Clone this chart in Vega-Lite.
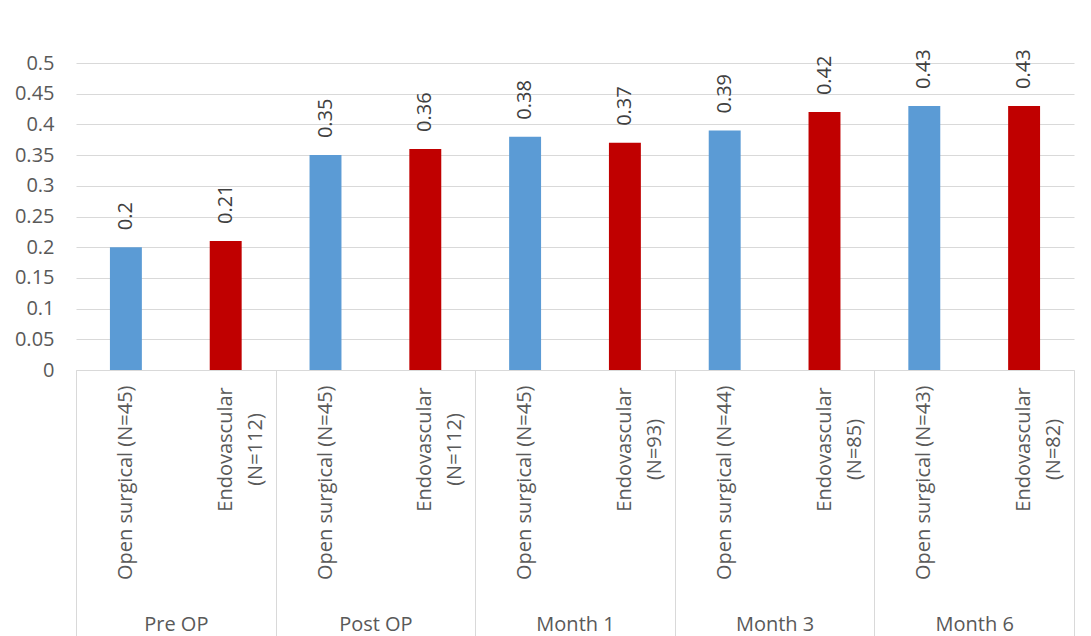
{
  "$schema": "https://vega.github.io/schema/vega-lite/v6.json",
  "width": 998,
  "height": 307,
  "autosize": "none",
  "padding": {"left": 76, "top": 63, "right": 17, "bottom": 266},
  "background": "white",
  "config": {
    "view": {"stroke": null},
    "font": "Open Sans",
    "axis": {"labelFont": "Open Sans", "labelFontSize": 20, "labelColor": "#595959"}
  },
  "layer": [
    {
      "data": {
        "values": [
          {"key": "Pre OP|Open surgical (N=45)", "period": "Pre OP", "arm": "Open surgical", "value": 0.2},
          {"key": "Pre OP|Endovascular|(N=112)", "period": "Pre OP", "arm": "Endovascular", "value": 0.21},
          {"key": "Post OP|Open surgical (N=45)", "period": "Post OP", "arm": "Open surgical", "value": 0.35},
          {"key": "Post OP|Endovascular|(N=112)", "period": "Post OP", "arm": "Endovascular", "value": 0.36},
          {"key": "Month 1|Open surgical (N=45)", "period": "Month 1", "arm": "Open surgical", "value": 0.38},
          {"key": "Month 1|Endovascular|(N=93)", "period": "Month 1", "arm": "Endovascular", "value": 0.37},
          {"key": "Month 3|Open surgical (N=44)", "period": "Month 3", "arm": "Open surgical", "value": 0.39},
          {"key": "Month 3|Endovascular|(N=85)", "period": "Month 3", "arm": "Endovascular", "value": 0.42},
          {"key": "Month 6|Open surgical (N=43)", "period": "Month 6", "arm": "Open surgical", "value": 0.43},
          {"key": "Month 6|Endovascular|(N=82)", "period": "Month 6", "arm": "Endovascular", "value": 0.43}
        ]
      },
      "encoding": {
        "x": {
          "field": "key",
          "type": "nominal",
          "sort": null,
          "scale": {"paddingInner": 0.68, "paddingOuter": 0.34},
          "axis": {
            "title": null,
            "labelExpr": "slice(split(datum.label, '|'), 1)",
            "labelAngle": 270,
            "labelAlign": {"condition": {"test": "indexof(datum.value, 'Endovascular') >= 0", "value": "center"}, "value": "right"},
            "labelPadding": {"condition": {"test": "indexof(datum.value, 'Endovascular') >= 0", "value": 79}, "value": 15},
            "labelBaseline": "middle",
            "labelLineHeight": 30,
            "labelLimit": 400,
            "labelOverlap": false,
            "labelBound": false,
            "ticks": false,
            "tickSize": 0,
            "domainColor": "#D9D9D9",
            "domainWidth": 1
          }
        },
        "y": {
          "field": "value",
          "type": "quantitative",
          "scale": {"domain": [0, 0.5]},
          "axis": {
            "title": null,
            "values": [0, 0.05, 0.1, 0.15, 0.2, 0.25, 0.3, 0.35, 0.4, 0.45, 0.5],
            "format": "~g",
            "domain": false,
            "ticks": false,
            "tickSize": 0,
            "labelPadding": 22,
            "grid": true,
            "gridColor": "#D9D9D9",
            "gridWidth": 1
          }
        }
      },
      "layer": [
        {
          "mark": {"type": "bar"},
          "encoding": {
            "color": {
              "field": "arm",
              "type": "nominal",
              "scale": {"domain": ["Open surgical", "Endovascular"], "range": ["#5B9BD5", "#C00000"]},
              "legend": null
            }
          }
        },
        {
          "mark": {"type": "text", "angle": 270, "align": "left", "baseline": "middle", "dx": 17, "fontSize": 20, "font": "Open Sans", "color": "#404040"},
          "encoding": {
            "text": {"field": "value", "type": "quantitative", "format": "~g"}
          }
        }
      ]
    },
    {
      "data": {
        "values": [
          {"period": "Pre OP"},
          {"period": "Post OP"},
          {"period": "Month 1"},
          {"period": "Month 3"},
          {"period": "Month 6"}
        ]
      },
      "mark": {"type": "bar", "opacity": 0},
      "encoding": {
        "x": {
          "field": "period",
          "type": "nominal",
          "sort": null,
          "scale": {"paddingInner": 0, "paddingOuter": 0},
          "axis": {
            "orient": "bottom",
            "title": null,
            "domain": false,
            "ticks": true,
            "tickBand": "extent",
            "tickSize": 270,
            "tickColor": "#D9D9D9",
            "tickWidth": 1,
            "labelAngle": 0,
            "labelAlign": "center",
            "labelBaseline": "alphabetic",
            "labelPadding": -10,
            "grid": false
          }
        }
      }
    }
  ],
  "resolve": {"scale": {"x": "independent"}, "axis": {"x": "independent"}}
}
